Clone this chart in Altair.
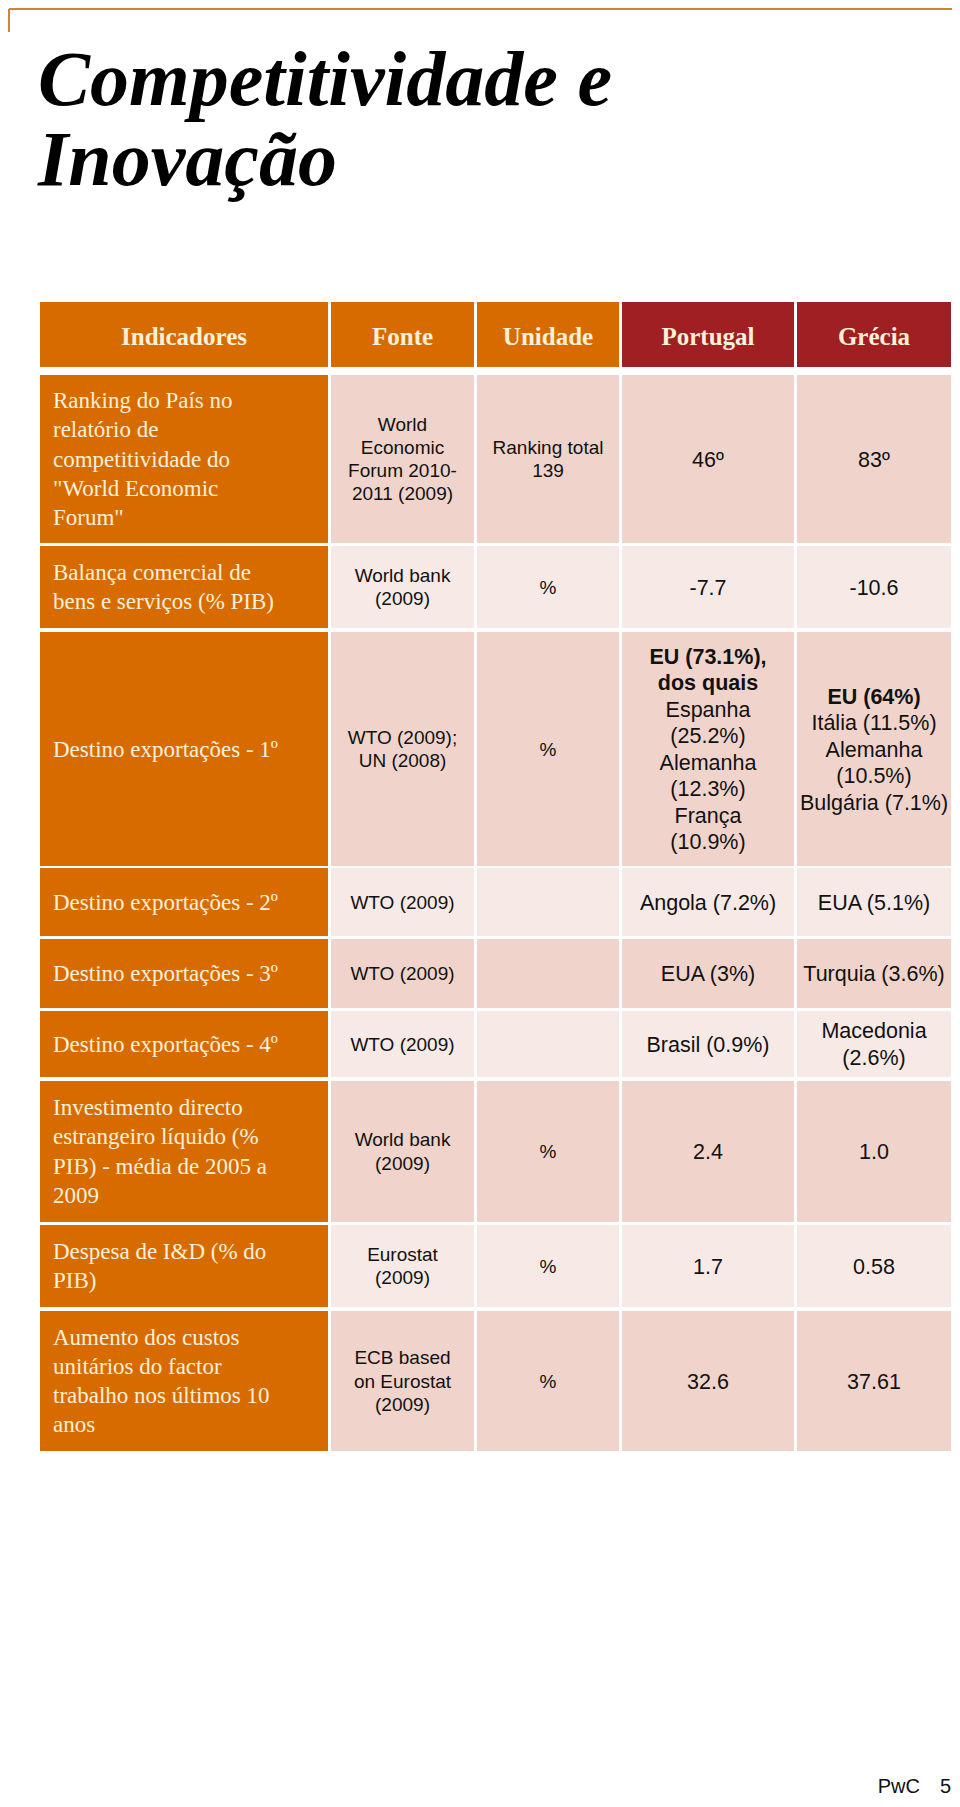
import altair as alt
import pandas as pd

# ---------------- data (cell contents, one list per line) ----------------
title_lines = ["Competitividade e", "Inovação"]
headers = ["Indicadores", "Fonte", "Unidade", "Portugal", "Grécia"]
indicators = [
    ["Ranking do País no", "relatório de", "competitividade do", "\"World Economic", "Forum\""],
    ["Balança comercial de", "bens e serviços (% PIB)"],
    ["Destino exportações - 1º"],
    ["Destino exportações - 2º"],
    ["Destino exportações - 3º"],
    ["Destino exportações - 4º"],
    ["Investimento directo", "estrangeiro líquido (%", "PIB) - média de 2005 a", "2009"],
    ["Despesa de I&D (% do", "PIB)"],
    ["Aumento dos custos", "unitários do factor", "trabalho nos últimos 10", "anos"],
]
sources = [
    ["World", "Economic", "Forum 2010-", "2011 (2009)"],
    ["World bank", "(2009)"],
    ["WTO (2009);", "UN (2008)"],
    ["WTO (2009)"],
    ["WTO (2009)"],
    ["WTO (2009)"],
    ["World bank", "(2009)"],
    ["Eurostat", "(2009)"],
    ["ECB based", "on Eurostat", "(2009)"],
]
units = [["Ranking total", "139"], ["%"], ["%"], [], [], [], ["%"], ["%"], ["%"]]
portugal = [
    ["46º"], ["-7.7"],
    ["EU (73.1%),", "dos quais", "Espanha", "(25.2%)", "Alemanha", "(12.3%)", "França", "(10.9%)"],
    ["Angola (7.2%)"], ["EUA (3%)"], ["Brasil (0.9%)"],
    ["2.4"], ["1.7"], ["32.6"],
]
portugal_bold_lines = [0, 0, 2, 0, 0, 0, 0, 0, 0]
grecia = [
    ["83º"], ["-10.6"],
    ["EU (64%)", "Itália (11.5%)", "Alemanha", "(10.5%)", "Bulgária (7.1%)"],
    ["EUA (5.1%)"], ["Turquia (3.6%)"], ["Macedonia", "(2.6%)"],
    ["1.0"], ["0.58"], ["37.61"],
]
grecia_bold_lines = [0, 0, 1, 0, 0, 0, 0, 0, 0]
footer = ["PwC", "5"]

# ---------------- layout (page pixels) ----------------
W, H = 944, 1791
COLS = [(40, 328), (331, 474), (477, 619), (622, 794), (797, 951)]
HEAD = (302, 367)
ROWS = [(375, 543), (546, 628), (632, 866), (868, 936), (939, 1008),
        (1011, 1077), (1081, 1222), (1225, 1307), (1311, 1451)]

ORANGE = "#D86B00"
DARKRED = "#9F1F22"
PINK_D = "#F0D4CB"
PINK_L = "#F7E9E6"
CREAM = "#FDF0D8"
LINE = "#D5822F"
INK = "#111111"

# cells
cells = []
for c, (x0, x1) in enumerate(COLS):
    cells.append(dict(x=x0, x2=x1, y=HEAD[0], y2=HEAD[1], fill=ORANGE if c < 3 else DARKRED))
for r, (y0, y1) in enumerate(ROWS):
    for c, (x0, x1) in enumerate(COLS):
        if c == 0:
            f = ORANGE
        else:
            f = PINK_D if r % 2 == 0 else PINK_L
        cells.append(dict(x=x0, x2=x1, y=y0, y2=y1, fill=f))
cells_df = pd.DataFrame(cells)


def place(lines, cy, lh, off, x):
    n = len(lines)
    return [dict(x=x, y=cy + off + (i - (n - 1) / 2) * lh, t=s) for i, s in enumerate(lines)]


def ctr(a):
    return (a[0] + a[1]) / 2


ind_rows, src_rows, val_rows, bold_rows = [], [], [], []
for r, rg in enumerate(ROWS):
    cy = ctr(rg)
    ind_rows += place(indicators[r], cy, 29.3, 7.5, COLS[0][0] + 13)
    src_rows += place(sources[r], cy, 23.3, 6.5, ctr(COLS[1]))
    src_rows += place(units[r], cy, 23.3, 6.5, ctr(COLS[2]))
    for vals, nb, col in ((portugal[r], portugal_bold_lines[r], COLS[3]),
                          (grecia[r], grecia_bold_lines[r], COLS[4])):
        pts = place(vals, cy, 26.5, 7.7, ctr(col))
        bold_rows += pts[:nb]
        val_rows += pts[nb:]

head_df = pd.DataFrame([dict(x=ctr(COLS[i]), y=ctr(HEAD) + 10, t=h) for i, h in enumerate(headers)])
title_df = pd.DataFrame([dict(x=38, y=105 + 80 * i, t=s) for i, s in enumerate(title_lines)])
foot_df = pd.DataFrame([dict(x=920, y=1793, t=footer[0], a="right"), dict(x=940, y=1793, t=footer[1], a="left")])
rules_df = pd.DataFrame([dict(x=9, x2=952, y=9, y2=9), dict(x=9, x2=9, y=9, y2=32)])

X = alt.X("x:Q", scale=alt.Scale(domain=[8, 8 + W], nice=False, zero=False), axis=None)
Y = alt.Y("y:Q", scale=alt.Scale(domain=[8, 8 + H], nice=False, zero=False, reverse=True), axis=None)

rects = alt.Chart(cells_df).mark_rect(strokeWidth=0).encode(
    x=X, x2="x2:Q", y=Y, y2="y2:Q", color=alt.Color("fill:N", scale=None))

rules = alt.Chart(rules_df).mark_rule(color=LINE, strokeWidth=2).encode(
    x=X, x2="x2:Q", y=Y, y2="y2:Q")

title = alt.Chart(title_df).mark_text(
    align="left", baseline="alphabetic", font="Liberation Serif", fontSize=78,
    fontStyle="italic", fontWeight="bold", color="#000000").encode(x=X, y=Y, text="t:N")

head = alt.Chart(head_df).mark_text(
    align="center", baseline="alphabetic", font="Liberation Serif", fontSize=25,
    fontWeight="bold", color=CREAM).encode(x=X, y=Y, text="t:N")

ind = alt.Chart(pd.DataFrame(ind_rows)).mark_text(
    align="left", baseline="alphabetic", font="Liberation Serif", fontSize=23,
    color=CREAM).encode(x=X, y=Y, text="t:N")

src = alt.Chart(pd.DataFrame(src_rows)).mark_text(
    align="center", baseline="alphabetic", font="Liberation Sans", fontSize=19,
    color=INK).encode(x=X, y=Y, text="t:N")

val = alt.Chart(pd.DataFrame(val_rows)).mark_text(
    align="center", baseline="alphabetic", font="Liberation Sans", fontSize=21.5,
    color=INK).encode(x=X, y=Y, text="t:N")

bold = alt.Chart(pd.DataFrame(bold_rows)).mark_text(
    align="center", baseline="alphabetic", font="Liberation Sans", fontSize=21.5,
    fontWeight="bold", color=INK).encode(x=X, y=Y, text="t:N")

foot_r = alt.Chart(foot_df[foot_df.a == "right"]).mark_text(
    align="right", baseline="alphabetic", font="Liberation Sans", fontSize=20,
    color=INK).encode(x=X, y=Y, text="t:N")
foot_l = alt.Chart(foot_df[foot_df.a == "left"]).mark_text(
    align="left", baseline="alphabetic", font="Liberation Sans", fontSize=20,
    color=INK).encode(x=X, y=Y, text="t:N")

chart = alt.layer(rects, rules, title, head, ind, src, val, bold, foot_r, foot_l).properties(
    width=W, height=H, padding=0, autosize="none"
).configure_view(stroke=None)

chart.save("out.html", embed_options={"renderer": "svg", "actions": False})
